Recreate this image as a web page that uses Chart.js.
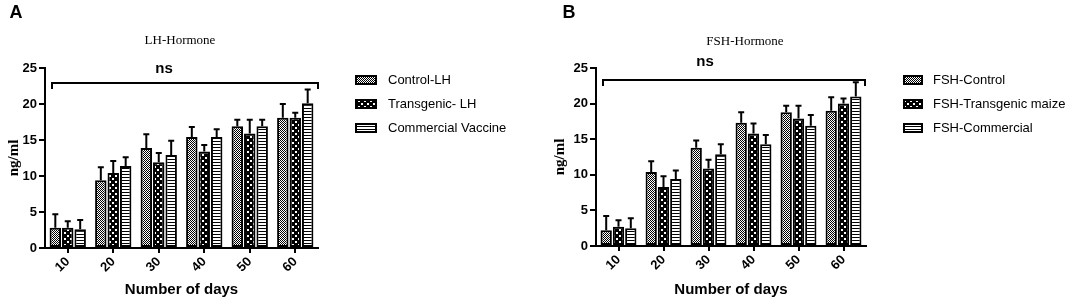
<!DOCTYPE html>
<html>
<head>
<meta charset="utf-8">
<script src="https://cdn.jsdelivr.net/npm/chart.js@4/dist/chart.umd.min.js"></script>
<style>
  body { margin: 0; background: #fff; }
  .wrap { position: relative; width: 1084px; height: 305px; }
  canvas { position: absolute; top: 0; }
</style>
</head>
<body>
<div class="wrap">
  <canvas id="lh-chart" width="540" height="305" style="left:0;"></canvas>
  <canvas id="fsh-chart" width="544" height="305" style="left:540px;"></canvas>
</div>
<script>
// ── Data ──
const days = ['10', '20', '30', '40', '50', '60'];

const lhLabels = ['Control-LH', 'Transgenic- LH', 'Commercial Vaccine'];
const lhControl = [2.8, 9.4, 13.9, 15.4, 16.9, 18.1];
const lhControlSD = [1.9, 1.8, 1.9, 1.4, 0.9, 1.9];
const lhTransgenic = [2.8, 10.4, 11.9, 13.4, 15.9, 18.1];
const lhTransgenicSD = [0.9, 1.7, 1.3, 0.9, 1.9, 0.7];
const lhCommercial = [2.6, 11.4, 12.9, 15.4, 16.9, 20.1];
const lhCommercialSD = [1.3, 1.2, 2.0, 1.1, 0.9, 1.9];

const fshLabels = ['FSH-Control', 'FSH-Transgenic maize', 'FSH-Commercial'];
const fshControl = [2.2, 10.4, 13.8, 17.3, 18.8, 19.0];
const fshControlSD = [2.0, 1.5, 1.0, 1.5, 0.9, 1.9];
const fshTransgenic = [2.7, 8.3, 10.9, 15.8, 17.9, 20.0];
const fshTransgenicSD = [0.9, 1.5, 1.2, 1.4, 1.8, 0.7];
const fshCommercial = [2.5, 9.4, 12.9, 14.3, 16.9, 21.0];
const fshCommercialSD = [1.4, 1.2, 1.4, 1.3, 1.5, 2.0];

const yTicks = [0, 5, 10, 15, 20, 25];

const SANS = "'Liberation Sans', Arial, sans-serif";
const SERIF = "'Liberation Serif', 'Times New Roman', serif";

Chart.defaults.font.family = SANS;
Chart.defaults.color = '#000';

// ── Fill patterns ──
function makePattern(kind) {
    const c = document.createElement('canvas');
    const g = c.getContext('2d');
    if (kind === 'fine') {
        c.width = 2; c.height = 2;
        g.fillStyle = '#fff'; g.fillRect(0, 0, 2, 2);
        g.fillStyle = '#000'; g.fillRect(0, 0, 1, 1); g.fillRect(1, 1, 1, 1);
    } else if (kind === 'check') {
        c.width = 6; c.height = 6;
        g.fillStyle = '#000'; g.fillRect(0, 0, 6, 6);
        g.fillStyle = '#fff'; g.fillRect(1, 1, 2, 2); g.fillRect(4, 4, 2, 2);
    } else {
        c.width = 3; c.height = 3;
        g.fillStyle = '#fff'; g.fillRect(0, 0, 3, 3);
        g.fillStyle = '#000'; g.fillRect(0, 0, 3, 1);
    }
    return g.createPattern(c, 'repeat');
}

// ── Error bars (upper whisker only) ──
const errorBars = {
    id: 'errorBars',
    afterDatasetsDraw(chart) {
        const ctx = chart.ctx;
        const y = chart.scales.y;
        chart.data.datasets.forEach((ds, i) => {
            chart.getDatasetMeta(i).data.forEach((bar, j) => {
                const top = y.getPixelForValue(ds.data[j] + ds.sd[j]);
                ctx.save();
                ctx.strokeStyle = '#000';
                ctx.lineWidth = 2;
                ctx.beginPath();
                ctx.moveTo(bar.x, bar.y);
                ctx.lineTo(bar.x, top);
                ctx.moveTo(bar.x - 3, top);
                ctx.lineTo(bar.x + 3, top);
                ctx.stroke();
                ctx.restore();
            });
        });
    }
};

// ── Panel letter, title, ns bracket, legend ──
const decor = {
    id: 'decor',
    afterDraw(chart, args, o) {
        const ctx = chart.ctx;
        ctx.save();
        ctx.fillStyle = '#000';
        ctx.textBaseline = 'middle';

        ctx.textAlign = 'center';
        ctx.font = 'bold 18px ' + SANS;
        ctx.fillText(o.letter, o.letterX, 13);

        ctx.font = '13px ' + SERIF;
        ctx.fillText(o.title, o.titleX, o.titleY);

        ctx.font = 'bold 15px ' + SANS;
        ctx.fillText('ns', o.nsX, o.nsY);

        ctx.strokeStyle = '#000';
        ctx.lineWidth = 2;
        ctx.beginPath();
        ctx.moveTo(o.bx1, o.by + 6);
        ctx.lineTo(o.bx1, o.by);
        ctx.lineTo(o.bx2, o.by);
        ctx.lineTo(o.bx2, o.by + 6);
        ctx.stroke();

        ctx.textAlign = 'left';
        ctx.font = '13px ' + SANS;
        chart.data.datasets.forEach((ds, i) => {
            const ly = o.legendY + i * 24;
            ctx.fillStyle = ds.backgroundColor;
            ctx.fillRect(o.legendX, ly - 5, o.swatchW, 10);
            ctx.strokeRect(o.legendX + 1, ly - 4, o.swatchW - 2, 8);
            ctx.fillStyle = '#000';
            ctx.fillText(ds.label, o.textX, ly);
        });
        ctx.restore();
    }
};

function buildChart(id, labels, series, sds, geo, decorOpts) {
    const fills = [makePattern('fine'), makePattern('check'), makePattern('stripe')];
    const datasets = series.map((d, i) => ({
        label: labels[i],
        data: d,
        sd: sds[i],
        backgroundColor: fills[i],
        borderColor: '#000',
        borderWidth: 2,
        borderSkipped: false,
        categoryPercentage: 0.82,
        barPercentage: 0.92,
    }));

    return new Chart(document.getElementById(id), {
        type: 'bar',
        data: { labels: days, datasets },
        options: {
            responsive: false,
            animation: false,
            layout: { padding: { left: 0, top: geo.top, right: geo.right, bottom: 0 } },
            plugins: {
                legend: { display: false },
                tooltip: { enabled: false },
                decor: decorOpts,
            },
            scales: {
                x: {
                    afterFit: s => { s.height = geo.xHeight; },
                    ticks: {
                        font: { size: 13, weight: 'bold' },
                        minRotation: 45, maxRotation: 45,
                        autoSkip: false, padding: 1,
                    },
                    grid: { offset: false, drawOnChartArea: false, tickLength: 5, color: '#000', lineWidth: 2 },
                    border: { color: '#000', width: 2 },
                    title: {
                        display: true, text: 'Number of days',
                        font: { size: 15, weight: 'bold' },
                        padding: { top: 0, bottom: 6 },
                    },
                },
                y: {
                    min: 0, max: 25,
                    afterFit: s => { s.width = geo.yWidth; },
                    afterBuildTicks: s => { s.ticks = yTicks.map(v => ({ value: v })); },
                    ticks: { font: { size: 13, weight: 'bold' }, padding: 2 },
                    grid: { drawOnChartArea: false, tickLength: 6, color: '#000', lineWidth: 2 },
                    border: { color: '#000', width: 2 },
                    title: {
                        display: true, text: 'ng/ml',
                        font: { family: SERIF, size: 15, weight: 'bold' },
                        padding: { top: geo.yTitlePad, bottom: 0 },
                    },
                },
            },
        },
        plugins: [errorBars, decor],
    });
}

buildChart('lh-chart', lhLabels,
    [lhControl, lhTransgenic, lhCommercial],
    [lhControlSD, lhTransgenicSD, lhCommercialSD],
    { top: 68, right: 222, xHeight: 57, yWidth: 45, yTitlePad: 5 },
    { letter: 'A', letterX: 16, title: 'LH-Hormone', titleX: 180, titleY: 41,
      nsX: 164, nsY: 69, bx1: 52, bx2: 318, by: 83,
      legendX: 355, legendY: 80, swatchW: 22, textX: 388 });

buildChart('fsh-chart', fshLabels,
    [fshControl, fshTransgenic, fshCommercial],
    [fshControlSD, fshTransgenicSD, fshCommercialSD],
    { top: 68, right: 218, xHeight: 59, yWidth: 56, yTitlePad: 11 },
    { letter: 'B', letterX: 29, title: 'FSH-Hormone', titleX: 205, titleY: 42,
      nsX: 165, nsY: 62, bx1: 63, bx2: 325, by: 80,
      legendX: 363, legendY: 80, swatchW: 20, textX: 393 });
</script>
</body>
</html>
